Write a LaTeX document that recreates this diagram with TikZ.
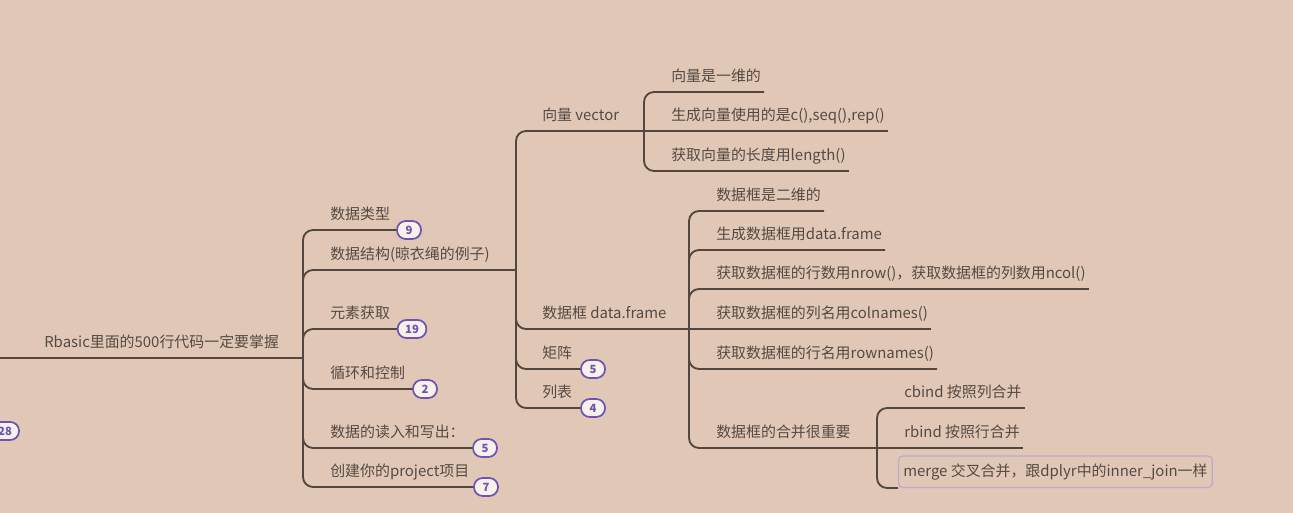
\documentclass[tikz,border=0pt]{standalone}
\usepackage{fontspec}
\setmainfont{Noto Sans CJK SC}
\usepackage{xcolor}
\usepackage{tikz}

\definecolor{bgcol}{RGB}{225,200,182}
\definecolor{linecol}{RGB}{82,70,62}
\definecolor{textcol}{RGB}{84,74,68}
\definecolor{badgecol}{RGB}{108,84,178}
\definecolor{badgefill}{RGB}{248,240,235}
\definecolor{selcol}{RGB}{188,168,208}

\tikzset{
	topic/.style={anchor=south west, inner xsep=2.25pt, inner ysep=5.2pt,
		text height=9pt, text depth=2.5pt, text=textcol,
		font=\fontsize{11.2}{13}\selectfont},
	badge/.style={draw=badgecol, line width=1.3pt, fill=badgefill,
		rounded corners=6.5pt, minimum width=18pt, minimum height=13.5pt,
		inner sep=1pt, text=badgecol, font=\fontsize{8.5}{9}\selectfont\bfseries},
	branch/.style={draw=linecol, line width=1.4pt, rounded corners=7.5pt},
	selbox/.style={topic, draw=selcol, line width=0.9pt, rounded corners=3pt,
		inner xsep=3.5pt, minimum height=23.25pt, inner ysep=6pt}
}

\begin{document}
\begin{tikzpicture}[x=0.75pt,y=-0.75pt]
	\fill[bgcol] (0,0) rectangle (1293,513);
	\useasboundingbox (0,0) rectangle (1293,513);
	\clip (0,0) rectangle (1293,513);

	\coordinate (rin) at (0,358);
	\coordinate (sp1) at (303,358);
	\coordinate (sp2) at (516,270);
	\coordinate (sp3) at (644,131);
	\coordinate (sp4) at (689,329);
	\coordinate (sp5) at (877,448);

	\node[badge, minimum width=21pt] (b0) at (5,431) {28};

	\node[topic] (root) at (41,358) {Rbasic里面的500行代码一定要掌握};

	\node[topic] (t1) at (327,230) {数据类型};
	\node[badge] (b1) at (409,230) {9};
	\node[topic] (t2) at (327,270) {数据结构(晾衣绳的例子)};
	\node[topic] (t3) at (327,329) {元素获取};
	\node[badge, minimum width=21.5pt] (b3) at (412,329) {19};
	\node[topic] (t4) at (327,389) {循环和控制};
	\node[badge] (b4) at (425,389) {2};
	\node[topic] (t5) at (327,448) {数据的读入和写出：};
	\node[badge] (b5) at (485,448) {5};
	\node[topic] (t6) at (327,487) {创建你的project项目};
	\node[badge] (b6) at (486,487) {7};

	\node[topic] (vec) at (539,131) {向量 vector};
	\node[topic] (df) at (539,329) {数据框 data.frame};
	\node[topic] (mat) at (539,369) {矩阵};
	\node[badge] (bm) at (593,369) {5};
	\node[topic] (lst) at (539,408) {列表};
	\node[badge] (bl) at (593,408) {4};

	\node[topic] (v1) at (668,92) {向量是一维的};
	\node[topic] (v2) at (668,131) {生成向量使用的是c(),seq(),rep()};
	\node[topic] (v3) at (668,171) {获取向量的长度用length()};

	\node[topic] (d1) at (713,211) {数据框是二维的};
	\node[topic] (d2) at (713,250) {生成数据框用data.frame};
	\node[topic] (d3) at (713,289) {获取数据框的行数用nrow()，获取数据框的列数用ncol()};
	\node[topic] (d4) at (713,329) {获取数据框的列名用colnames()};
	\node[topic] (d5) at (713,369) {获取数据框的行名用rownames()};
	\node[topic] (d6) at (713,448) {数据框的合并很重要};

	\node[topic] (c1) at (901,408) {cbind 按照列合并};
	\node[topic] (c2) at (901,448) {rbind 按照行合并};
	\node[selbox] (c3) at (898,488) {merge 交叉合并，跟dplyr中的inner\_join一样};

	% root and first level
	\draw[branch] (rin) -- (root.south east) -- (sp1);
	\draw[branch] (sp1) |- (b1.west);
	\draw[branch] (sp1) |- (t2.south east) -- (sp2);
	\draw[branch] (sp1) |- (b3.west);
	\draw[branch] (sp1) |- (b4.west);
	\draw[branch] (sp1) |- (b5.west);
	\draw[branch] (sp1) |- (b6.west);

	% data structures
	\draw[branch] (sp2) |- (vec.south east) -- (sp3);
	\draw[branch] (sp2) |- (df.south east) -- (sp4);
	\draw[branch] (sp2) |- (bm.west);
	\draw[branch] (sp2) |- (bl.west);

	\draw[branch] (sp3) |- (v1.south east);
	\draw[branch] (sp3) -- (v2.south east);
	\draw[branch] (sp3) |- (v3.south east);

	\draw[branch] (sp4) |- (d1.south east);
	\draw[branch] (sp4) |- (d2.south east);
	\draw[branch] (sp4) |- (d3.south east);
	\draw[branch] (sp4) -- (d4.south east);
	\draw[branch] (sp4) |- (d5.south east);
	\draw[branch] (sp4) |- (d6.south east) -- (sp5);

	\draw[branch] (sp5) |- (c1.south east);
	\draw[branch] (sp5) -- (c2.south east);
	\draw[branch] (sp5) |- (c3.south west);
\end{tikzpicture}
\end{document}
